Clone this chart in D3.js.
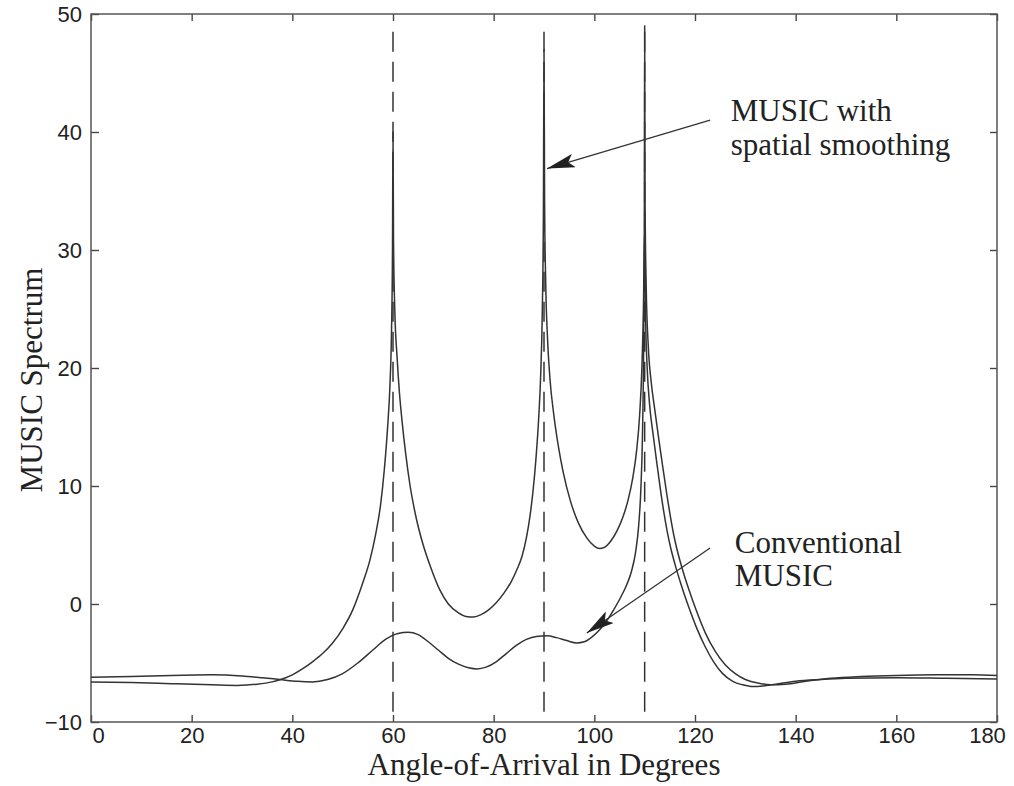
<!DOCTYPE html>
<html>
<head>
<meta charset="utf-8">
<script src="https://cdn.jsdelivr.net/npm/d3@7"></script>
<style>
  body { margin: 0; background: #fff; }
  .tick text { font-family: "Liberation Sans", Arial, Helvetica, sans-serif; font-size: 22px; fill: #222; }
  .lab { font-family: "Liberation Serif", "Times New Roman", serif; font-size: 31px; fill: #222; }
</style>
</head>
<body>
<div id="chart"></div>
<script>
// Data (angle in degrees, spectrum in dB)
var smoothAngle = [0, 8, 16, 24, 29, 33, 36, 38, 40, 42, 44, 46, 48, 50, 52, 54, 55.4, 56.5, 57.5, 58.3, 58.9, 59.4, 59.7, 59.9, 60,
  60.1, 60.35, 60.8, 61.3, 61.8, 62.5, 63.4, 64.5, 66, 67.5, 69.3, 71, 73, 74.5, 76, 77.5, 79, 80.5, 82, 83.5, 84.6, 85.6, 86.5, 87.2, 87.8, 88.4, 88.95, 89.35, 89.65, 89.88, 90,
  90.12, 90.35, 90.7, 91.2, 91.9, 92.8, 93.8, 95.2, 96.8, 98.5, 100, 101, 102, 103.2, 104.5, 105.7, 106.7, 107.6, 108.4, 109, 109.45, 109.75, 110,
  110.2, 110.5, 111, 111.7, 112.4, 113.1, 113.8, 114.5, 115.2, 116, 117.2, 118.7, 120.3, 122, 123.7, 125.5, 127.5, 129.5, 131.5, 133.5, 136, 140, 145, 150, 160, 170, 180];
var smoothDb = [-6.6, -6.65, -6.75, -6.85, -6.9, -6.8, -6.6, -6.35, -6.0, -5.5, -4.9, -4.2, -3.3, -2.1, -0.5, 1.8, 3.7, 5.8, 8.3, 11.5, 14.8, 18.6, 23, 30, 40,
  31, 25, 21, 17.8, 15.5, 12.8, 10.0, 7.5, 5.0, 3.1, 1.2, 0.0, -0.75, -1.05, -1.1, -0.9, -0.5, 0.1, 0.9, 1.9, 2.9, 4.0, 5.6, 7.4, 9.5, 12.3, 15.8, 19.5, 24.5, 33, 47,
  34, 27, 22.5, 19, 16.2, 13.5, 11.2, 8.8, 6.9, 5.6, 4.9, 4.7, 4.8, 5.3, 6.2, 7.4, 8.8, 10.6, 13, 16, 20, 25, 32,
  24, 20, 16.8, 14.3, 12.0, 9.8, 7.8, 6.1, 4.7, 3.4, 1.7, -0.2, -2.0, -3.6, -4.9, -5.9, -6.55, -6.85, -7.0, -6.95, -6.8, -6.55, -6.4, -6.3, -6.25, -6.3, -6.35];

var convAngle = [0, 8, 16, 24, 30, 34, 37.5, 41, 44, 47, 50, 53, 56, 58.5, 61, 63, 65, 67, 69, 71, 73, 75, 76.7, 78.5, 80.5, 82.5, 84.5, 86.5, 88.5,
  90.6, 92.5, 94.5, 96.5, 98, 99.5, 101, 102.5, 104.1, 105.4, 106.5, 107.4, 108.2, 108.8, 109.25, 109.55, 109.78, 109.93, 110,
  110.08, 110.3, 110.7, 111.3, 112, 112.8, 113.6, 114.4, 115.2, 116, 116.8, 117.6, 118.8, 120.3, 122, 124, 126, 128, 130, 132.5, 135, 138, 142, 147, 153, 160, 168, 175, 180];
var convDb = [-6.2, -6.15, -6.05, -6.0, -6.1, -6.25, -6.4, -6.55, -6.6, -6.4, -5.9, -5.0, -3.9, -3.0, -2.5, -2.4, -2.6, -3.2, -3.9, -4.6, -5.1, -5.4, -5.5, -5.35, -4.9, -4.2, -3.5, -3.0, -2.75,
  -2.7, -2.85, -3.1, -3.3, -3.2, -2.8, -2.2, -1.4, -0.3, 0.7, 1.7, 2.8, 4.4, 6.6, 9.8, 14, 21, 31, 49,
  34, 27, 22, 18.8, 16.5, 14.0, 11.6, 9.3, 7.2, 5.4, 4.0, 2.8, 1.2, -0.6, -2.4, -4.0, -5.15, -5.9, -6.4, -6.7, -6.85, -6.8, -6.55, -6.3, -6.15, -6.05, -6.0, -6.0, -6.05];

var sources = [60, 90, 110];          // dashed vertical lines
var xTicks = [0, 20, 40, 60, 80, 100, 120, 140, 160, 180];
var yTicks = [-10, 0, 10, 20, 30, 40, 50];

var W = 1014, H = 786;
var margin = { left: 91, top: 14, right: 17, bottom: 64 };
var iw = W - margin.left - margin.right;
var ih = H - margin.top - margin.bottom;

var svg = d3.select("#chart").append("svg").attr("width", W).attr("height", H);
var g = svg.append("g").attr("transform", "translate(" + margin.left + "," + margin.top + ")");

var x = d3.scaleLinear().domain([0, 180]).range([0, iw]);
var y = d3.scaleLinear().domain([-10, 50]).range([ih, 0]);

g.append("clipPath").attr("id", "clip").append("rect").attr("width", iw).attr("height", ih);

// Osy s tiky dovnitř
var fmt = function (d) { return d < 0 ? "\u2212" + Math.abs(d) : d; };
var bottom = g.append("g").attr("transform", "translate(0," + ih + ")")
  .call(d3.axisBottom(x).tickValues(xTicks).tickSize(-7).tickPadding(5));
bottom.selectAll(".tick text").attr("dx", function (d) { return d === 0 ? 7 : d === 180 ? -10 : 0; });
g.append("g").call(d3.axisLeft(y).tickValues(yTicks).tickSize(-8).tickPadding(9).tickFormat(fmt));
g.append("g").call(d3.axisTop(x).tickValues(xTicks).tickSize(-7).tickFormat(""));
g.append("g").attr("transform", "translate(" + iw + ",0)")
  .call(d3.axisRight(y).tickValues(yTicks).tickSize(-7).tickFormat(""));
g.selectAll(".domain").remove();
g.selectAll(".tick line").attr("stroke", "#444").attr("stroke-width", 1.4);

g.append("rect").attr("width", iw).attr("height", ih)
  .attr("fill", "none").attr("stroke", "#555").attr("stroke-width", 1.5);

// Přerušované čáry skutečných směrů
g.selectAll(".src").data(sources).enter().append("line")
  .attr("x1", function (d) { return x(d); }).attr("x2", function (d) { return x(d); })
  .attr("y1", y(48.5)).attr("y2", y(-9.4))
  .attr("stroke", "#333").attr("stroke-width", 1.5).attr("stroke-dasharray", "20,10");

// Křivky spekter
var line = d3.line().x(function (d) { return x(d[0]); }).y(function (d) { return y(d[1]); })
  .curve(d3.curveMonotoneX);
var series = [d3.zip(smoothAngle, smoothDb), d3.zip(convAngle, convDb)];
g.append("g").attr("clip-path", "url(#clip)").selectAll("path.s").data(series).enter().append("path")
  .attr("d", line).attr("fill", "none").attr("stroke", "#333").attr("stroke-width", 1.5);

// Šipky a popisky
svg.append("defs").append("marker").attr("id", "head")
  .attr("viewBox", "0 0 28 14").attr("refX", 28).attr("refY", 7)
  .attr("markerWidth", 28).attr("markerHeight", 14).attr("markerUnits", "userSpaceOnUse")
  .attr("orient", "auto")
  .append("path").attr("d", "M0,0 L28,7 L0,14 L6,7 Z").attr("fill", "#222");

var arrows = [
  { from: [123.0, 41.0], to: [90.6, 36.9] },
  { from: [123.0, 4.75], to: [98.5, -2.46] }
];
g.selectAll(".arr").data(arrows).enter().append("line")
  .attr("x1", function (d) { return x(d.from[0]); }).attr("y1", function (d) { return y(d.from[1]); })
  .attr("x2", function (d) { return x(d.to[0]); }).attr("y2", function (d) { return y(d.to[1]); })
  .attr("stroke", "#333").attr("stroke-width", 1.3).attr("marker-end", "url(#head)");

var notes = [
  { t: "MUSIC with", at: [127.1, 40.9] },
  { t: "spatial smoothing", at: [127.1, 38.05] },
  { t: "Conventional", at: [127.9, 4.3] },
  { t: "MUSIC", at: [127.9, 1.5] }
];
g.selectAll(".note").data(notes).enter().append("text").attr("class", "lab")
  .attr("x", function (d) { return x(d.at[0]); }).attr("y", function (d) { return y(d.at[1]); })
  .text(function (d) { return d.t; });

svg.append("text").attr("class", "lab").attr("text-anchor", "middle")
  .attr("x", margin.left + iw / 2).attr("y", 775).text("Angle-of-Arrival in Degrees");
svg.append("text").attr("class", "lab").attr("text-anchor", "middle")
  .attr("transform", "translate(42," + (margin.top + 366) + ") rotate(-90)").text("MUSIC Spectrum");
</script>
</body>
</html>
